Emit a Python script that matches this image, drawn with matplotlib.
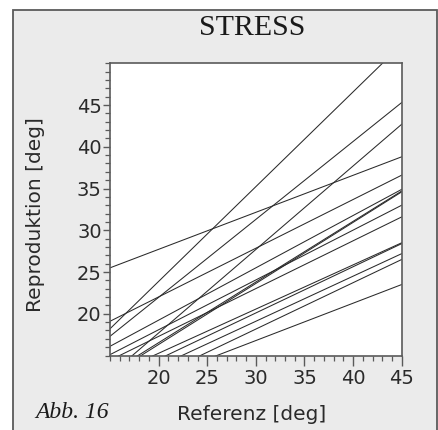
import matplotlib
matplotlib.use("Agg")
import matplotlib.pyplot as plt
import matplotlib.ticker as mticker
from matplotlib.patches import Rectangle

# ── Data: per-subject regression lines, Reproduktion at Referenz 15° and 45° ──
ref_lo, ref_hi = 15, 45
repro_at_15 = [18.2, 25.5, 19.1, 17.3, 12.7, 16.1, 12.9, 12.66,
               15.1, 14.43, 12.62, 11.79, 11.0, 9.83, 10.08]
repro_at_45 = [52.25, 38.8, 36.6, 45.3, 42.7, 34.9, 34.7, 34.6,
               33.0, 31.6, 28.5, 28.4, 27.2, 26.5, 23.5]

x_ticks = [20, 25, 30, 35, 40, 45]
y_ticks = [20, 25, 30, 35, 40, 45]

TITLE = "STRESS"
FIG_LABEL = "Abb. 16"
X_LABEL = "Referenz [deg]"
Y_LABEL = "Reproduktion [deg]"

PAPER = "#ebebeb"
INK = "#2a2a2a"
FRAME = "#5a5a5a"

fig = plt.figure(figsize=(4.39, 4.30), dpi=100)
fig.patch.set_facecolor("white")

# paper panel with its border, kept behind the axes
fig.patches.append(Rectangle((13 / 439, -0.05), 424 / 439, 1 - 9.5 / 430 + 0.05,
                             transform=fig.transFigure, facecolor=PAPER,
                             edgecolor=FRAME, linewidth=1.3, zorder=-10))

ax = fig.add_axes([110 / 439, 1 - 355.5 / 430, 291.7 / 439, 292.2 / 430])
ax.set_zorder(1)
ax.set_facecolor("white")

for y0, y1 in zip(repro_at_15, repro_at_45):
    ax.plot([ref_lo, ref_hi], [y0, y1], color=INK, linewidth=0.75)

ax.set_xlim(15, 45)
ax.set_ylim(15, 50)

ax.set_xticks(x_ticks)
ax.set_yticks(y_ticks)
ax.xaxis.set_minor_locator(mticker.MultipleLocator(1))
ax.yaxis.set_minor_locator(mticker.MultipleLocator(1))
ax.tick_params(which="major", width=1.0, color=FRAME,
               labelsize=14, labelcolor=INK)
ax.tick_params(axis="x", which="major", length=7, pad=3)
ax.tick_params(axis="y", which="major", length=5, pad=1)
ax.tick_params(which="minor", length=3.5, width=0.9, color=FRAME)
for spine in ax.spines.values():
    spine.set_color(FRAME)
    spine.set_linewidth(1.2)

ax.set_ylabel(Y_LABEL, fontsize=14.5, color=INK)
ax.yaxis.set_label_coords(45 / 439, 0.5, transform=fig.transFigure)

fig.text(252 / 439, 1 - 28 / 430, TITLE, ha="center", va="center",
         family="Liberation Serif", fontsize=21.5, color="#1a1a1a")
fig.text(252 / 439, 1 - 414 / 430, X_LABEL, ha="center", va="center",
         fontsize=14.5, color=INK)
fig.text(35 / 439, 1 - 413 / 430, FIG_LABEL, ha="left", va="center",
         family="Liberation Serif", style="italic", fontsize=17, color="#1a1a1a")

fig.savefig("out.png", dpi=100, facecolor=fig.get_facecolor())
